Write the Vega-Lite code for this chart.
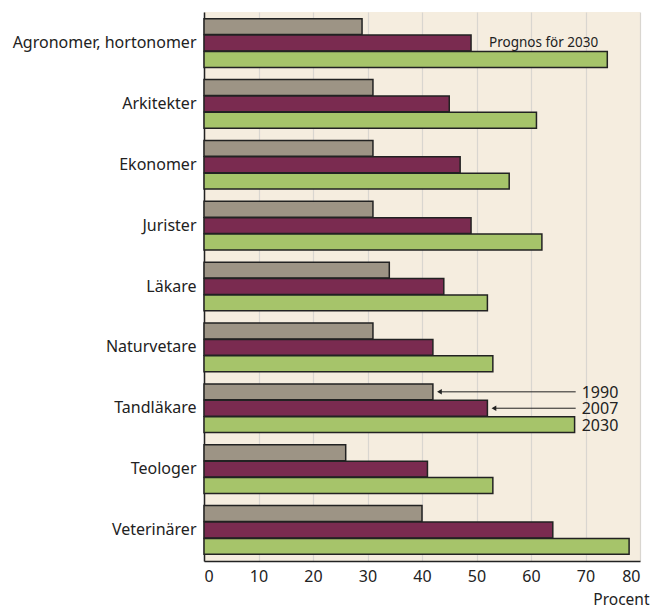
{
  "$schema": "https://vega.github.io/schema/vega-lite/v6.json",
  "autosize": "none",
  "width": 436,
  "height": 549,
  "padding": {"left": 204, "top": 12, "right": 13, "bottom": 48},
  "background": "white",
  "view": {"fill": "#f5eddf", "stroke": null},
  "config": {
    "font": "Noto Sans",
    "axis": {"labelFont": "Noto Sans", "titleFont": "Noto Sans", "labelColor": "#222", "titleColor": "#222"}
  },
  "datasets": {
    "bars": [
      {"yrke": "Agronomer, hortonomer", "ar": "1990", "procent": 29},
      {"yrke": "Agronomer, hortonomer", "ar": "2007", "procent": 49},
      {"yrke": "Agronomer, hortonomer", "ar": "2030", "procent": 74},
      {"yrke": "Arkitekter", "ar": "1990", "procent": 31},
      {"yrke": "Arkitekter", "ar": "2007", "procent": 45},
      {"yrke": "Arkitekter", "ar": "2030", "procent": 61},
      {"yrke": "Ekonomer", "ar": "1990", "procent": 31},
      {"yrke": "Ekonomer", "ar": "2007", "procent": 47},
      {"yrke": "Ekonomer", "ar": "2030", "procent": 56},
      {"yrke": "Jurister", "ar": "1990", "procent": 31},
      {"yrke": "Jurister", "ar": "2007", "procent": 49},
      {"yrke": "Jurister", "ar": "2030", "procent": 62},
      {"yrke": "Läkare", "ar": "1990", "procent": 34},
      {"yrke": "Läkare", "ar": "2007", "procent": 44},
      {"yrke": "Läkare", "ar": "2030", "procent": 52},
      {"yrke": "Naturvetare", "ar": "1990", "procent": 31},
      {"yrke": "Naturvetare", "ar": "2007", "procent": 42},
      {"yrke": "Naturvetare", "ar": "2030", "procent": 53},
      {"yrke": "Tandläkare", "ar": "1990", "procent": 42},
      {"yrke": "Tandläkare", "ar": "2007", "procent": 52},
      {"yrke": "Tandläkare", "ar": "2030", "procent": 68},
      {"yrke": "Teologer", "ar": "1990", "procent": 26},
      {"yrke": "Teologer", "ar": "2007", "procent": 41},
      {"yrke": "Teologer", "ar": "2030", "procent": 53},
      {"yrke": "Veterinärer", "ar": "1990", "procent": 40},
      {"yrke": "Veterinärer", "ar": "2007", "procent": 64},
      {"yrke": "Veterinärer", "ar": "2030", "procent": 78}
    ],
    "arrows": [
      {"yrke": "Tandläkare", "ar": "1990", "from": 43.2, "to": 68.2},
      {"yrke": "Tandläkare", "ar": "2007", "from": 53.2, "to": 68.2}
    ],
    "labels": [
      {"yrke": "Tandläkare", "ar": "1990", "pos": 69.3, "text": "1990"},
      {"yrke": "Tandläkare", "ar": "2007", "pos": 69.3, "text": "2007"},
      {"yrke": "Tandläkare", "ar": "2030", "pos": 69.3, "text": "2030"}
    ],
    "note": [
      {"yrke": "Agronomer, hortonomer", "ar": "2007", "pos": 52.3, "text": "Prognos för 2030"}
    ]
  },
  "encoding": {
    "y": {
      "field": "yrke", "type": "nominal",
      "scale": {
        "domain": ["Agronomer, hortonomer", "Arkitekter", "Ekonomer", "Jurister", "Läkare", "Naturvetare", "Tandläkare", "Teologer", "Veterinärer"],
        "paddingInner": 0.2, "paddingOuter": 0.11
      },
      "axis": {"title": null, "ticks": false, "labelPadding": 8, "labelFontSize": 16, "labelLimit": 300, "domainColor": "#222", "domainWidth": 1.5}
    },
    "yOffset": {
      "field": "ar", "type": "nominal",
      "scale": {"domain": ["1990", "2007", "2030"], "paddingInner": 0.03}
    }
  },
  "layer": [
    {
      "data": {"name": "bars"},
      "mark": {"type": "bar", "stroke": "#222", "strokeWidth": 1.5},
      "encoding": {
        "x": {
          "field": "procent", "type": "quantitative",
          "scale": {"domain": [0, 80], "nice": false},
          "axis": {
            "values": [0, 10, 20, 30, 40, 50, 60, 70, 80],
            "title": "Procent", "titleFontSize": 15.5, "titleFontWeight": "normal",
            "titleAnchor": "end", "titleAlign": "right", "titleBaseline": "alphabetic",
            "titleX": 445, "titleY": 43,
            "labelFontSize": 16, "labelPadding": 7, "ticks": false,
            "grid": true, "gridColor": "#d9d6d0", "gridWidth": 1.2,
            "domainColor": "#222", "domainWidth": 1.5
          }
        },
        "color": {
          "field": "ar", "type": "nominal",
          "scale": {"domain": ["1990", "2007", "2030"], "range": ["#9d9485", "#7a2b50", "#a6c46a"]},
          "legend": null
        }
      }
    },
    {
      "data": {"name": "arrows"},
      "mark": {"type": "rule", "color": "#222", "strokeWidth": 1},
      "encoding": {
        "x": {"field": "from", "type": "quantitative"},
        "x2": {"field": "to"}
      }
    },
    {
      "data": {"name": "arrows"},
      "mark": {"type": "point", "shape": "triangle-left", "filled": true, "color": "#222", "size": 30, "opacity": 1},
      "encoding": {
        "x": {"field": "from", "type": "quantitative"}
      }
    },
    {
      "data": {"name": "labels"},
      "mark": {"type": "text", "align": "left", "baseline": "middle", "fontSize": 16, "color": "#222", "dy": 1},
      "encoding": {
        "x": {"field": "pos", "type": "quantitative"},
        "text": {"field": "text"}
      }
    },
    {
      "data": {"name": "note"},
      "mark": {"type": "text", "align": "left", "baseline": "middle", "fontSize": 13.5, "color": "#222", "dy": 0},
      "encoding": {
        "x": {"field": "pos", "type": "quantitative"},
        "text": {"field": "text"}
      }
    }
  ]
}
